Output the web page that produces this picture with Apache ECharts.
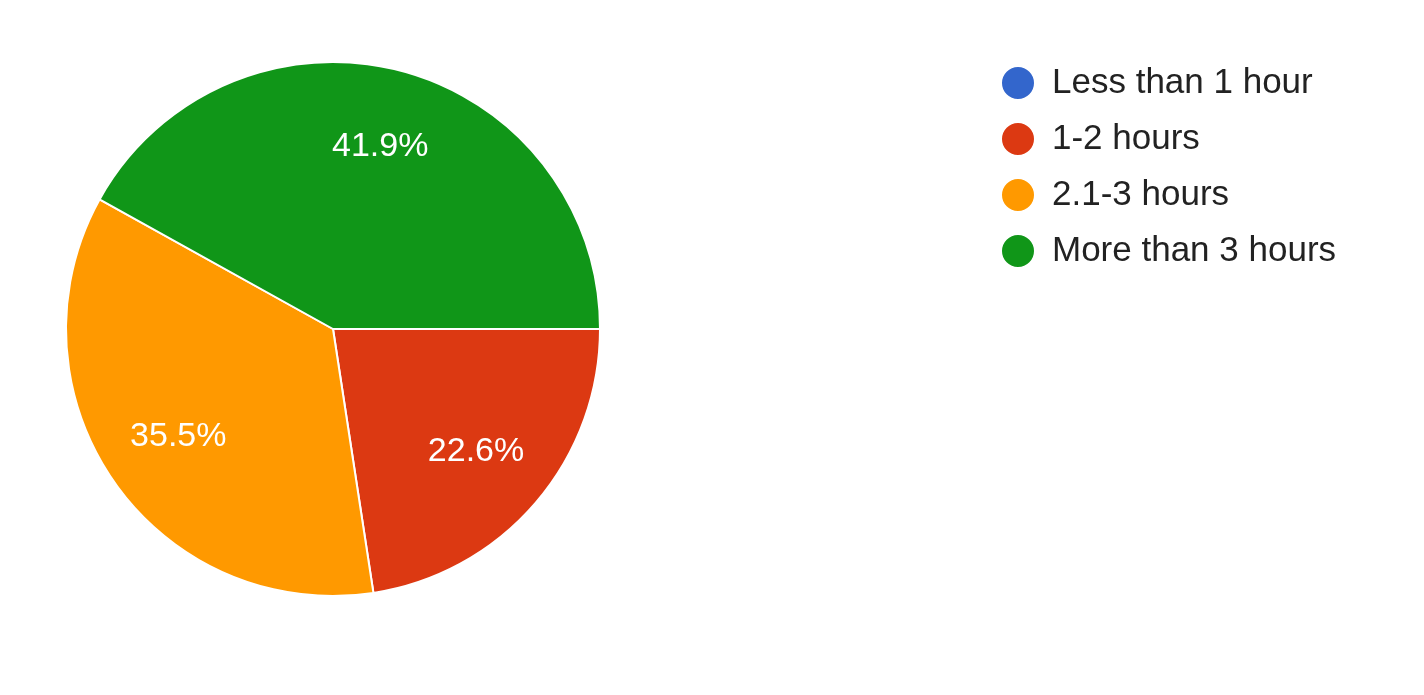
<!DOCTYPE html>
<html>
<head>
<meta charset="utf-8">
<script src="https://cdn.jsdelivr.net/npm/echarts@6/dist/echarts.min.js"></script>
<style>html,body{margin:0;padding:0;background:#fff;}#c{width:1424px;height:695px;}</style>
</head>
<body>
<div id="c"></div>
<script>
const categories = ['Less than 1 hour', '1-2 hours', '2.1-3 hours', 'More than 3 hours'];
const counts = [0, 7, 11, 13];
const colors = ['#3366cc', '#dc3912', '#ff9900', '#109618'];

const FONT = "'Liberation Sans', Arial, sans-serif";
const data = categories.map((n, i) => ({ name: n, value: counts[i] }));
const chart = echarts.init(document.getElementById('c'));
chart.setOption({
  animation: false,
  color: colors,
  legend: {
    orient: 'vertical',
    left: 995,
    top: 60,
    icon: 'circle',
    itemWidth: 34,
    itemHeight: 34,
    itemGap: 20,
    data: categories,
    textStyle: { fontFamily: FONT, fontSize: 35, color: '#222', padding: [2, 0, 0, 12] }
  },
  series: [
    {
      type: 'pie',
      center: [333, 329],
      radius: [0, 267],
      startAngle: 0,
      clockwise: true,
      percentPrecision: 1,
      data: data,
      itemStyle: { borderColor: '#fff', borderWidth: 2 },
      label: { show: false },
      labelLine: { show: false },
      emphasis: { disabled: true }
    },
    {
      type: 'pie',
      silent: true,
      center: [333, 329],
      radius: [104, 267],
      startAngle: 0,
      clockwise: true,
      percentPrecision: 1,
      data: data,
      itemStyle: { color: 'rgba(0,0,0,0)', borderWidth: 0 },
      label: {
        show: true,
        position: 'inside',
        color: '#fff',
        fontFamily: FONT,
        fontSize: 34,
        formatter: p => p.value > 0 ? p.percent.toFixed(1) + '%' : ''
      },
      labelLine: { show: false },
      emphasis: { disabled: true }
    }
  ]
});
</script>
</body>
</html>
